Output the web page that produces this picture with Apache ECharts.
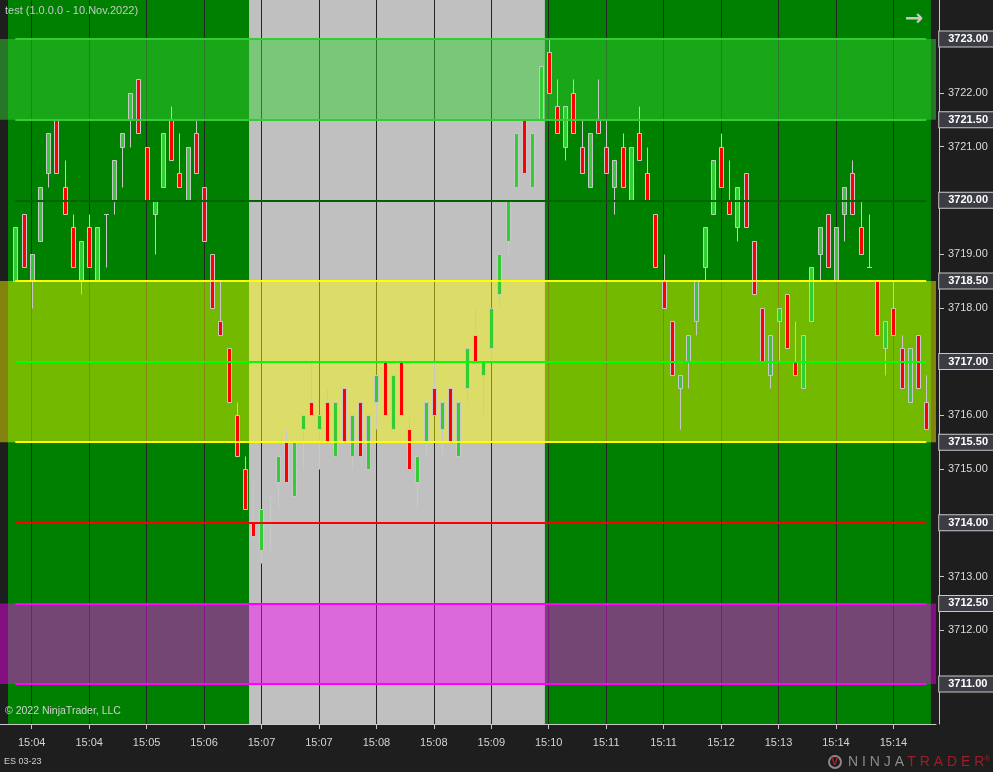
<!DOCTYPE html>
<html>
<head>
<meta charset="utf-8">
<title>test</title>
<script src="https://cdn.jsdelivr.net/npm/echarts@6/dist/echarts.min.js"></script>
<style>
    html, body { margin: 0; padding: 0; background: #1e1e1e; }
    #chart { width: 993px; height: 772px; }
</style>
</head>
<body>
<div id="chart"></div>
<script>
// ES 03-23, one bar per slot, prices in index points
var opens = [
    3718.5, 3719.75, 3718.5, 3719.25, 3720.5, 3721.5, 3720.25, 3719.5, 3718.5, 3719.5,
    3718.5, 3719.75, 3720.0, 3721.0, 3721.5, 3722.25, 3721.0, 3719.75, 3720.25, 3721.5,
    3720.5, 3720.0, 3721.25, 3720.25, 3719.0, 3717.75, 3717.25, 3716.0, 3715.0, 3714.0,
    3713.5, 3714.5, 3714.75, 3715.5, 3714.5, 3715.75, 3716.25, 3715.75, 3716.25, 3715.25,
    3716.5, 3715.25, 3716.25, 3715.0, 3716.25, 3717.0, 3715.75, 3717.0, 3715.75, 3714.75,
    3715.5, 3716.5, 3715.75, 3716.5, 3715.25, 3716.5, 3717.5, 3716.75, 3717.25, 3718.25,
    3719.25, 3720.25, 3721.5, 3720.25, 3721.5, 3722.75, 3721.75, 3721.0, 3722.0, 3721.0,
    3720.25, 3721.5, 3721.0, 3720.25, 3721.0, 3720.0, 3721.25, 3720.5, 3719.75, 3718.5,
    3717.75, 3716.5, 3717.0, 3717.75, 3718.75, 3719.75, 3721.0, 3720.0, 3719.5, 3720.5,
    3719.25, 3718.0, 3716.75, 3717.75, 3718.25, 3717.0, 3716.5, 3717.75, 3719.0, 3719.75,
    3718.5, 3719.75, 3720.5, 3719.5, 3718.75, 3718.5, 3717.25, 3718.0, 3717.25, 3716.25,
    3717.5, 3716.25
];
var highs = [
    3719.5, 3719.75, 3719.0, 3720.25, 3721.25, 3721.5, 3720.75, 3719.75, 3719.25, 3719.75,
    3719.5, 3719.75, 3720.75, 3721.25, 3722.0, 3722.25, 3721.0, 3720.0, 3721.25, 3721.75,
    3721.25, 3721.0, 3721.5, 3720.25, 3719.0, 3718.5, 3717.25, 3716.25, 3715.25, 3714.75,
    3714.25, 3714.5, 3715.25, 3715.75, 3715.5, 3716.0, 3717.0, 3716.0, 3716.5, 3716.25,
    3716.5, 3716.0, 3716.25, 3716.0, 3716.75, 3717.0, 3716.75, 3717.0, 3716.0, 3715.25,
    3716.25, 3717.0, 3716.25, 3716.5, 3716.25, 3717.25, 3718.0, 3717.0, 3718.0, 3719.0,
    3720.0, 3721.25, 3721.5, 3721.25, 3722.5, 3723.0, 3722.25, 3721.75, 3722.25, 3721.5,
    3721.25, 3722.25, 3721.5, 3720.75, 3721.25, 3721.0, 3721.75, 3721.0, 3719.75, 3719.0,
    3717.75, 3716.75, 3717.5, 3718.5, 3719.5, 3720.75, 3721.25, 3720.75, 3720.25, 3720.5,
    3719.25, 3718.0, 3717.5, 3718.0, 3718.25, 3717.75, 3717.5, 3718.75, 3719.5, 3719.75,
    3719.5, 3720.25, 3720.75, 3720.0, 3719.75, 3718.5, 3717.75, 3718.5, 3717.5, 3717.25,
    3717.5, 3716.75
];
var lows = [
    3718.5, 3718.75, 3718.0, 3719.25, 3720.25, 3720.5, 3719.75, 3718.75, 3718.25, 3718.75,
    3718.5, 3718.75, 3719.75, 3720.25, 3721.0, 3721.25, 3720.0, 3719.0, 3720.25, 3720.75,
    3720.25, 3720.0, 3720.5, 3719.25, 3718.0, 3717.5, 3716.25, 3715.25, 3714.25, 3713.75,
    3713.25, 3713.5, 3714.25, 3714.75, 3714.5, 3715.0, 3716.0, 3715.0, 3715.5, 3715.25,
    3715.5, 3715.0, 3715.25, 3715.0, 3715.75, 3716.0, 3715.75, 3716.0, 3715.0, 3714.25,
    3715.25, 3716.0, 3715.25, 3715.5, 3715.25, 3716.25, 3717.0, 3716.0, 3717.0, 3718.0,
    3719.0, 3720.25, 3720.5, 3720.25, 3721.5, 3722.0, 3721.25, 3720.75, 3721.25, 3720.5,
    3720.25, 3721.25, 3720.5, 3719.75, 3720.25, 3720.0, 3720.75, 3720.0, 3718.75, 3718.0,
    3716.75, 3715.75, 3716.5, 3717.5, 3718.5, 3719.75, 3720.25, 3719.75, 3719.25, 3719.5,
    3718.25, 3717.0, 3716.5, 3717.0, 3717.25, 3716.75, 3716.5, 3717.75, 3718.5, 3718.75,
    3718.5, 3719.25, 3719.75, 3719.0, 3718.75, 3717.5, 3716.75, 3717.5, 3716.5, 3716.25,
    3716.5, 3715.75
];
var closes = [
    3719.5, 3718.75, 3719.0, 3720.25, 3721.25, 3720.5, 3719.75, 3718.75, 3719.25, 3718.75,
    3719.5, 3719.75, 3720.75, 3721.25, 3722.0, 3721.25, 3720.0, 3720.0, 3721.25, 3720.75,
    3720.25, 3721.0, 3720.5, 3719.25, 3718.0, 3717.5, 3716.25, 3715.25, 3714.25, 3713.75,
    3714.25, 3714.5, 3715.25, 3714.75, 3715.5, 3716.0, 3716.0, 3716.0, 3715.5, 3716.25,
    3715.5, 3716.0, 3715.25, 3716.0, 3716.75, 3716.0, 3716.75, 3716.0, 3715.0, 3715.25,
    3716.25, 3716.0, 3716.25, 3715.5, 3716.25, 3717.25, 3717.0, 3717.0, 3718.0, 3719.0,
    3720.0, 3721.25, 3720.5, 3721.25, 3722.5, 3722.0, 3721.25, 3721.75, 3721.25, 3720.5,
    3721.25, 3721.25, 3720.5, 3720.75, 3720.25, 3721.0, 3720.75, 3720.0, 3718.75, 3718.0,
    3716.75, 3716.75, 3717.5, 3718.5, 3719.5, 3720.75, 3720.25, 3719.75, 3720.25, 3719.5,
    3718.25, 3717.0, 3717.5, 3718.0, 3717.25, 3716.75, 3717.5, 3718.75, 3719.5, 3718.75,
    3719.5, 3720.25, 3719.75, 3719.0, 3718.75, 3717.5, 3717.75, 3717.5, 3716.5, 3717.25,
    3716.5, 3715.75
];

// time labels and the bar each one sits on
var timeLabels = ['15:04', '15:04', '15:05', '15:06', '15:07', '15:07', '15:08', '15:08',
                  '15:09', '15:10', '15:11', '15:11', '15:12', '15:13', '15:14', '15:14'];
var timeBars = [2, 9, 16, 23, 30, 37, 44, 51, 58, 65, 72, 79, 86, 93, 100, 107];

// levels and zones drawn by the indicator
var levelPrices = [3723, 3721.5, 3720, 3718.5, 3717, 3715.5, 3714, 3712.5, 3711];
var zones = [[3721.5, 3723], [3715.5, 3718.5], [3711, 3712.5]];
var lastPrice = 3715.75;
var axisPrices = [3722, 3721, 3719, 3718, 3716, 3715, 3713, 3712];

// out-of-session stretch (bar index range), shaded gray
var sessionBreak = [28.48, 64.54];

var levelColors = ['#32cd32', '#32cd32', '#006400', '#ffff00', '#00ff00', '#ffff00', '#ff0000', '#ff00ff', '#ff00ff'];
var zoneColors = ['rgba(50,205,50,0.5)', 'rgba(255,255,0,0.45)', 'rgba(255,0,255,0.45)'];
var FONT = 'Liberation Sans, Arial, sans-serif';

var candles = [];
for (var i = 0; i < opens.length; i++) {
    candles.push([i, opens[i], highs[i], lows[i], closes[i]]);
}

function renderCandle(params, api) {
    var idx = api.value(0);
    var o = api.value(1), h = api.value(2), l = api.value(3), c = api.value(4);
    var x = Math.round(api.coord([idx, o])[0]);
    var yo = Math.round(api.coord([idx, o])[1]) + 0.5;
    var yc = Math.round(api.coord([idx, c])[1]) + 0.5;
    var yh = Math.round(api.coord([idx, h])[1]) + 0.5;
    var yl = Math.round(api.coord([idx, l])[1]) + 0.5;
    var wick = {
        type: 'line',
        shape: { x1: x + 0.5, y1: yh, x2: x + 0.5, y2: yl },
        style: { stroke: '#c8c8c8', lineWidth: 1 }
    };
    var body;
    if (o === c) {
        body = {
            type: 'line',
            shape: { x1: x - 2, y1: yo, x2: x + 3, y2: yo },
            style: { stroke: '#c8c8c8', lineWidth: 1 }
        };
    } else {
        body = {
            type: 'rect',
            shape: { x: x - 1.5, y: Math.min(yo, yc), width: 4, height: Math.abs(yo - yc) },
            style: { fill: c > o ? '#32cd32' : '#ff0000', stroke: '#c8c8c8', lineWidth: 1 }
        };
    }
    return { type: 'group', children: [wick, body] };
}

var levelLines = levelPrices.map(function (p, k) {
    return [
        { coord: [0, p], lineStyle: { color: levelColors[k], width: 2, type: 'solid' }, label: { formatter: p.toFixed(2) } },
        { coord: [opens.length - 1, p] }
    ];
});
levelLines.push([
    { coord: [0, lastPrice], lineStyle: { opacity: 0, width: 0 }, label: { formatter: lastPrice.toFixed(2) } },
    { coord: [opens.length - 1, lastPrice] }
]);

var myChart = echarts.init(document.getElementById('chart'), null, { renderer: 'canvas' });

var option = {
    backgroundColor: '#1e1e1e',
    animation: false,
    textStyle: { fontFamily: FONT },
    grid: {
        left: 0, right: 57, top: 0, bottom: 48,
        containLabel: false,
        outerBoundsMode: 'none'
    },
    xAxis: {
        type: 'value',
        min: -1.864,
        max: 112.19,
        axisLine: { show: true, onZero: false, lineStyle: { color: '#c8c8c8', width: 1 } },
        axisTick: { show: true, customValues: timeBars, length: 5, lineStyle: { color: '#c8c8c8' } },
        axisLabel: {
            customValues: timeBars,
            margin: 13,
            color: '#d4d4d4',
            fontSize: 11,
            fontFamily: FONT,
            formatter: function (v) {
                var k = timeBars.indexOf(v);
                return k >= 0 ? timeLabels[k] : '';
            }
        },
        splitLine: { show: false }
    },
    yAxis: {
        type: 'value',
        position: 'right',
        offset: 3,
        min: 3710.256,
        max: 3723.726,
        axisLine: { show: true, onZero: false, lineStyle: { color: '#c8c8c8', width: 1 } },
        axisTick: { show: true, customValues: axisPrices, length: 5, lineStyle: { color: '#c8c8c8' } },
        axisLabel: {
            customValues: axisPrices,
            margin: 9,
            color: '#d8dbe0',
            fontSize: 11,
            fontFamily: FONT,
            formatter: function (v) { return v.toFixed(2); }
        },
        splitLine: { show: false }
    },
    series: [
        {
            // chart background and time grid
            name: 'background',
            type: 'line',
            data: [],
            z: 0,
            clip: false,
            markArea: {
                silent: true,
                z: 0,
                data: [
                    [{ xAxis: -0.89, itemStyle: { color: '#008000' } }, { xAxis: sessionBreak[0] }],
                    [{ xAxis: sessionBreak[0], itemStyle: { color: '#c0c0c0' } }, { xAxis: sessionBreak[1] }],
                    [{ xAxis: sessionBreak[1], itemStyle: { color: '#008000' } }, { xAxis: 111.57 }]
                ]
            },
            markLine: {
                silent: true,
                z: 1,
                symbol: ['none', 'none'],
                label: { show: false },
                lineStyle: { color: '#262626', width: 1, type: 'solid' },
                data: timeBars.map(function (b) { return { xAxis: b }; })
            }
        },
        {
            name: 'zones',
            type: 'line',
            data: [],
            z: 2,
            clip: false,
            markArea: {
                silent: true,
                z: 2,
                data: zones.map(function (zn, k) {
                    return [{ yAxis: zn[0], itemStyle: { color: zoneColors[k] } }, { yAxis: zn[1] }];
                })
            }
        },
        {
            name: 'ES 03-23',
            type: 'custom',
            z: 3,
            clip: false,
            renderItem: renderCandle,
            encode: { x: 0, y: [1, 2, 3, 4] },
            data: candles
        },
        {
            name: 'levels',
            type: 'line',
            data: [],
            z: 4,
            clip: false,
            markLine: {
                silent: true,
                z: 4,
                symbol: ['none', 'none'],
                lineStyle: { width: 2, type: 'solid' },
                label: {
                    show: true,
                    position: 'end',
                    distance: 13,
                    color: '#ffffff',
                    fontSize: 11,
                    fontWeight: 'bold',
                    fontFamily: FONT,
                    backgroundColor: '#3c3c44',
                    borderColor: '#c8c8c8',
                    borderWidth: 1,
                    padding: [2, 30, 2, 9]
                },
                data: levelLines
            }
        }
    ],
    graphic: [
        {
            type: 'text', left: 5, top: 5, z: 20,
            style: { text: 'test (1.0.0.0 - 10.Nov.2022)', fill: '#c8c8c8', font: '11px ' + FONT }
        },
        {
            type: 'text', left: 905, top: 8, z: 20,
            style: { text: '\u2192', fill: '#c8c8c8', font: 'bold 22px DejaVu Sans' }
        },
        {
            type: 'text', left: 5, top: 706, z: 20,
            style: { text: '\u00a9 2022 NinjaTrader, LLC', fill: '#d0d0d0', font: '10.5px ' + FONT }
        },
        {
            type: 'text', left: 4, top: 757, z: 20,
            style: { text: 'ES 03-23', fill: '#d0d0d0', font: '9px ' + FONT }
        },
        {
            type: 'circle', z: 20,
            shape: { cx: 835, cy: 762, r: 6 },
            style: { fill: 'none', stroke: '#8a8a8a', lineWidth: 2 }
        },
        {
            type: 'text', left: 831, top: 756, z: 21,
            style: { text: 'V', fill: '#b01e2a', font: 'bold 11px ' + FONT }
        },
        {
            type: 'text', left: 848, top: 755, z: 20,
            style: {
                text: '{a|N I N J A} {b|T R A D E R}{c|\u00ae}',
                rich: {
                    a: { fill: '#8a8a8a', font: '14px ' + FONT },
                    b: { fill: '#a01c28', font: '14px ' + FONT },
                    c: { fill: '#a01c28', font: '8px ' + FONT, verticalAlign: 'top' }
                }
            }
        }
    ]
};

myChart.setOption(option);
window.onresize = myChart.resize;
</script>
</body>
</html>
